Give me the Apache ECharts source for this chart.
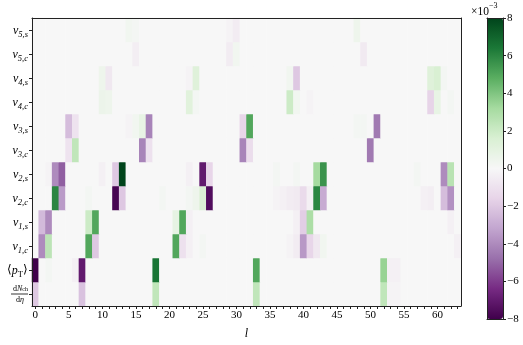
<!DOCTYPE html>
<html>
<head>
<meta charset="utf-8">
<script src="https://cdn.jsdelivr.net/npm/echarts@6/dist/echarts.min.js"></script>
<style>
  html, body { margin: 0; padding: 0; background: #fff; }
  #chart { width: 523px; height: 345px; }
</style>
</head>
<body>
<div id="chart"></div>
<script>
// Harmonic index l along the x axis
const lValues = Array.from({ length: 64 }, (_, i) => i);

// Row keys, bottom to top
const rowKeys = ['dN', 'pT', 'v1c', 'v1s', 'v2c', 'v2s', 'v3c', 'v3s', 'v4c', 'v4s', 'v5c', 'v5s'];

// Non-zero entries per row as [l, value × 1e-3]; every other cell is 0
const v5s = [[14, 0.3], [15, 0.2], [29, -0.2], [30, -0.5], [48, 0.5]];
const v5c = [[15, -0.4], [29, -0.5], [30, 0.3], [49, -0.6]];
const v4s = [[10, 0.5], [11, -0.7], [23, -0.2], [24, 1.3], [38, 0.3], [39, -2.0], [59, 1.3], [60, 1.6], [61, 0.2]];
const v4c = [[10, 0.6], [11, 0.5], [23, 1.2], [24, 0.2], [38, 2.0], [39, 0.3], [41, -0.2], [59, -1.6], [60, 0.8], [62, 0.2]];
const v3s = [[5, -2.4], [6, -0.9], [14, -0.2], [15, 0.3], [16, 0.8], [17, -4.2], [31, -1.5], [32, 5.0], [48, 0.2], [49, 0.2], [51, -4.5]];
const v3c = [[5, -0.9], [6, 2.4], [16, -4.2], [17, -1.0], [31, -4.2], [32, -1.2], [50, -4.5]];
const v2s = [[2, -0.2], [3, -4.0], [4, -5.2], [10, -0.3], [12, -2.0], [13, 8.0], [23, -0.3], [25, -7.0], [26, -1.5],
             [36, 0.2], [39, 0.2], [42, 3.2], [43, 5.6], [57, 0.2], [61, -4.0], [62, 2.6]];
const v2c = [[3, 6.0], [4, -3.5], [8, 0.2], [12, -7.8], [13, -2.0], [19, 0.2], [23, 0.2], [24, 0.5], [25, 1.5], [26, -7.5],
             [36, -0.2], [37, -0.3], [38, -0.5], [39, -0.6], [40, -1.3], [41, -0.3], [42, 6.0], [43, -3.0],
             [58, -0.3], [59, -0.4], [61, -2.4], [62, -3.8]];
const v1s = [[1, -2.5], [2, -4.0], [8, 2.0], [9, 5.0], [21, 0.9], [22, 5.0], [23, -0.3], [39, -0.3], [40, -1.8], [41, 3.0], [62, -0.3]];
const v1c = [[1, -4.0], [2, 2.5], [8, 5.0], [9, -2.0], [21, 5.0], [22, -1.0], [23, -0.3], [25, 0.2], [38, -0.2], [39, -0.5],
             [40, -3.6], [41, -1.5], [42, -0.7], [43, 0.3], [63, -0.3]];
const pT  = [[0, -8.0], [2, 0.2], [6, -0.3], [7, -7.0], [18, 6.5], [33, 5.0], [52, 3.5], [53, -0.3], [54, -0.3]];
const dN  = [[0, -2.0], [7, -2.2], [18, 2.4], [33, 2.4], [52, 2.4], [53, -0.2], [54, -0.2]];

const rowEntries = { dN, pT, v1c, v1s, v2c, v2s, v3c, v3s, v4c, v4s, v5c, v5s };

// Colour bar ticks
const barTicks = [-8, -6, -4, -2, 0, 2, 4, 6, 8];

// PRGn diverging palette
const prgn = ['#40004b', '#762a83', '#9970ab', '#c2a5cf', '#e7d4e8', '#f7f7f7',
              '#d9f0d3', '#a6dba0', '#5aae61', '#1b7837', '#00441b'];

// Build the full grid of cells
const cells = [];
rowKeys.forEach((key, r) => {
  const row = new Array(lValues.length).fill(0);
  rowEntries[key].forEach(([l, v]) => { row[l] = v; });
  row.forEach((v, l) => cells.push([l, r, v]));
});

const serif = 'Liberation Serif';
const rowLabels = {
  v5s: '{v|v}{s|5,s}', v5c: '{v|v}{s|5,c}',
  v4s: '{v|v}{s|4,s}', v4c: '{v|v}{s|4,c}',
  v3s: '{v|v}{s|3,s}', v3c: '{v|v}{s|3,c}',
  v2s: '{v|v}{s|2,s}', v2c: '{v|v}{s|2,c}',
  v1s: '{v|v}{s|1,s}', v1c: '{v|v}{s|1,c}',
  pT: '{r|⟨}{v|p}{sr|T}{r|⟩}',
  dN: '{fu|d}{fi|N}{fs|ch}\n{bar|}\n{dl|d}{dr|η}'
};

const frameLine = { show: true, onZero: false, lineStyle: { color: '#222', width: 1 } };

const chart = echarts.init(document.getElementById('chart'), null, { renderer: 'canvas' });
chart.setOption({
  animation: false,
  backgroundColor: '#fff',
  textStyle: { fontFamily: serif, color: '#000' },
  grid: [
    { left: 32, top: 18, width: 429, height: 301 },
    { left: 487, top: 18, width: 16, height: 301 }
  ],
  xAxis: [
    {
      type: 'category', gridIndex: 0, data: lValues, position: 'bottom', z: 5,
      axisLine: frameLine,
      axisTick: { show: true, interval: 0, alignWithLabel: true, length: 3, lineStyle: { color: '#222' } },
      axisLabel: {
        interval: (i) => i % 5 === 0, margin: 4, fontSize: 11, fontFamily: serif, color: '#000'
      },
      splitLine: { show: false },
      name: 'l', nameLocation: 'middle', nameGap: 22,
      nameTextStyle: { fontSize: 12, fontStyle: 'italic', fontFamily: serif, color: '#000' }
    },
    {
      type: 'category', gridIndex: 0, data: lValues, position: 'top', z: 5,
      axisLine: frameLine, axisTick: { show: false }, axisLabel: { show: false }
    },
    {
      type: 'value', gridIndex: 1, position: 'bottom', min: 0, max: 1, z: 10,
      axisLine: frameLine, axisTick: { show: false }, axisLabel: { show: false }, splitLine: { show: false }
    },
    {
      type: 'value', gridIndex: 1, position: 'top', min: 0, max: 1, z: 10,
      axisLine: frameLine, axisTick: { show: false }, axisLabel: { show: false }, splitLine: { show: false }
    }
  ],
  yAxis: [
    {
      type: 'category', gridIndex: 0, data: rowKeys, position: 'left', z: 5,
      axisLine: frameLine,
      axisTick: { show: true, interval: 0, alignWithLabel: true, length: 3, lineStyle: { color: '#222' } },
      axisLabel: {
        interval: 0, margin: 4, align: 'right',
        formatter: (v) => rowLabels[v],
        rich: {
          v: { fontSize: 12, fontStyle: 'italic', fontFamily: serif, lineHeight: 14, verticalAlign: 'bottom' },
          s: { fontSize: 8.5, fontStyle: 'italic', fontFamily: serif, lineHeight: 14, verticalAlign: 'bottom', padding: [0, 0, -2, 0] },
          r: { fontSize: 12, fontFamily: serif, lineHeight: 14 },
          sr: { fontSize: 8.5, fontFamily: serif, lineHeight: 14, verticalAlign: 'bottom', padding: [0, 0, -2, 0] },
          fu: { fontSize: 8, fontFamily: serif, lineHeight: 8 },
          fi: { fontSize: 8, fontStyle: 'italic', fontFamily: serif, lineHeight: 8 },
          fs: { fontSize: 6, fontFamily: serif, lineHeight: 8, verticalAlign: 'bottom' },
          bar: { width: 17, height: 0.8, lineHeight: 3, backgroundColor: '#000' },
          dl: { fontSize: 8, fontFamily: serif, lineHeight: 8 },
          dr: { fontSize: 8, fontStyle: 'italic', fontFamily: serif, lineHeight: 8, padding: [0, 4, 0, 0] }
        }
      },
      splitLine: { show: false }
    },
    {
      type: 'category', gridIndex: 0, data: rowKeys, position: 'right', z: 5,
      axisLine: frameLine, axisTick: { show: false }, axisLabel: { show: false }
    },
    {
      type: 'value', gridIndex: 1, position: 'right', min: barTicks[0], max: barTicks[barTicks.length - 1], interval: 2, z: 10,
      axisLine: frameLine,
      axisTick: { show: true, length: 3, lineStyle: { color: '#222' } },
      axisLabel: {
        margin: 4, fontSize: 11, fontFamily: serif, color: '#000',
        formatter: (v) => (v < 0 ? '\u2212' + Math.abs(v) : String(v))
      },
      splitLine: { show: false }
    },
    {
      type: 'value', gridIndex: 1, position: 'left', min: -8, max: 8, z: 10,
      axisLine: frameLine, axisTick: { show: false }, axisLabel: { show: false }, splitLine: { show: false }
    }
  ],
  visualMap: {
    type: 'continuous', seriesIndex: 0, min: -8, max: 8,
    orient: 'vertical', left: 487, top: 18, itemWidth: 16, itemHeight: 301,
    padding: 0, calculable: false, hoverLink: false, realtime: false,
    inRange: { color: prgn }
  },
  graphic: [{
    type: 'text', left: 471, top: 2,
    style: {
      text: '{m|×10}{e|−3}',
      rich: {
        m: { fontSize: 11.5, fontFamily: serif, fill: '#000', lineHeight: 16, verticalAlign: 'bottom' },
        e: { fontSize: 8, fontFamily: serif, fill: '#000', lineHeight: 16, verticalAlign: 'top' }
      }
    }
  }],
  series: [{
    type: 'heatmap', xAxisIndex: 0, yAxisIndex: 0,
    data: cells,
    itemStyle: { borderWidth: 0 },
    emphasis: { disabled: true },
    progressive: 0
  }]
});
</script>
</body>
</html>
